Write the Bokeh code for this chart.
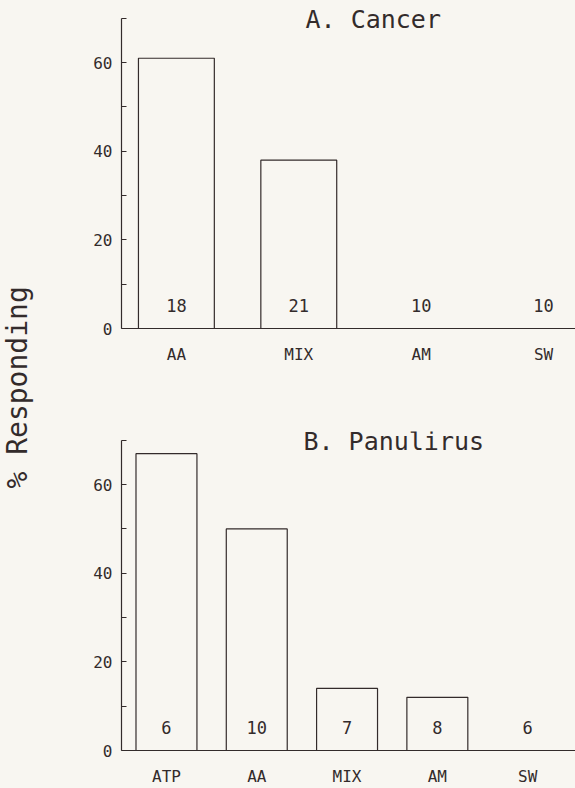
import math
from bokeh.plotting import figure
from bokeh.models import Range1d, FixedTicker, Label, ColumnDataSource
from bokeh.layouts import row, column
from bokeh.embed import file_html
from bokeh.resources import INLINE
from bokeh.core.properties import value

# ---- data ----
cancer_cats = ["AA", "MIX", "AM", "SW"]
cancer_pct = [61, 38, 0, 0]
cancer_n = ["18", "21", "10", "10"]

pan_cats = ["ATP", "AA", "MIX", "AM", "SW"]
pan_pct = [67, 50, 14, 12, 0]
pan_n = ["6", "10", "7", "8", "6"]

y_ticks = [0, 20, 40, 60]
y_minor = [10, 30, 50, 70]

# ---- style ----
BG = "#f8f6f1"
INK = "#332b2b"
FONT = "DejaVu Sans Mono"


def panel(cats, pct, n, title, title_x, title_y, x_start, x_end, bar_w,
          height, top_border, bottom_border):
    xs = list(range(len(cats)))
    src = ColumnDataSource(dict(x=xs, top=pct, n=n))
    p = figure(width=535, height=height,
               x_range=Range1d(x_start, x_end), y_range=Range1d(0, 72),
               output_backend="svg", toolbar_location=None,
               min_border_left=81, min_border_right=0,
               min_border_top=top_border, min_border_bottom=bottom_border,
               background_fill_color=BG, border_fill_color=BG,
               outline_line_color=None, styles={"background-color": BG})
    p.grid.visible = False

    p.vbar(x="x", top="top", bottom=0, width=bar_w, source=src,
           fill_color=None, line_color=INK, line_width=1.2)
    p.text(x="x", y=0, text="n", source=src, y_offset=-23,
           text_align="center", text_baseline="middle",
           text_font=value(FONT), text_font_size="17px", text_color=INK)

    # x axis
    xa = p.xaxis[0]
    xa.ticker = FixedTicker(ticks=xs)
    xa.major_label_overrides = {i: c for i, c in enumerate(cats)}
    xa.major_tick_line_color = None
    xa.minor_tick_line_color = None
    xa.major_tick_in = 0
    xa.major_tick_out = 0
    xa.minor_tick_in = 0
    xa.minor_tick_out = 0
    xa.major_label_standoff = 16
    xa.axis_line_color = INK
    xa.axis_line_width = 1.2
    xa.major_label_text_font = FONT
    xa.major_label_text_font_size = "16px"
    xa.major_label_text_color = INK

    # y axis
    ya = p.yaxis[0]
    ya.bounds = (0, 70)
    ya.ticker = FixedTicker(ticks=y_ticks, minor_ticks=y_minor)
    ya.major_tick_in = 5
    ya.major_tick_out = 0
    ya.minor_tick_in = 5
    ya.minor_tick_out = 0
    ya.major_tick_line_color = INK
    ya.minor_tick_line_color = INK
    ya.axis_line_color = INK
    ya.axis_line_width = 1.2
    ya.major_label_standoff = 9
    ya.major_label_text_font = FONT
    ya.major_label_text_font_size = "16px"
    ya.major_label_text_color = INK

    p.add_layout(Label(x=title_x, y=title_y, text=title,
                       text_font=FONT, text_font_size="25px",
                       text_color=INK, text_align="left",
                       text_baseline="middle"))
    return p


p1 = panel(cancer_cats, cancer_pct, cancer_n, "A. Cancer", 1.055, 69.8,
           -0.4485, 3.261, 0.62, 378, 9, 50)
p2 = panel(pan_cats, pan_pct, pan_n, "B. Panulirus", 1.517, 69.8,
           -0.498, 4.530, 0.675, 410, 53, 38)

lab = figure(width=40, height=788, x_range=Range1d(0, 1), y_range=Range1d(0, 1),
             output_backend="svg", toolbar_location=None,
             min_border=0, min_border_left=0, min_border_right=0,
             min_border_top=0, min_border_bottom=0,
             background_fill_color=BG, border_fill_color=BG,
             outline_line_color=None, x_axis_location=None, y_axis_location=None,
             styles={"background-color": BG})
lab.grid.visible = False
lab.add_layout(Label(x=0.43, y=0.509, text="% Responding", angle=math.pi / 2,
                     text_font=FONT, text_font_size="28px", text_color=INK,
                     text_align="center", text_baseline="middle"))

layout = row(lab, column(p1, p2, styles={"background-color": BG}),
             styles={"background-color": BG})

open("out.html", "w").write(file_html(layout, INLINE))
